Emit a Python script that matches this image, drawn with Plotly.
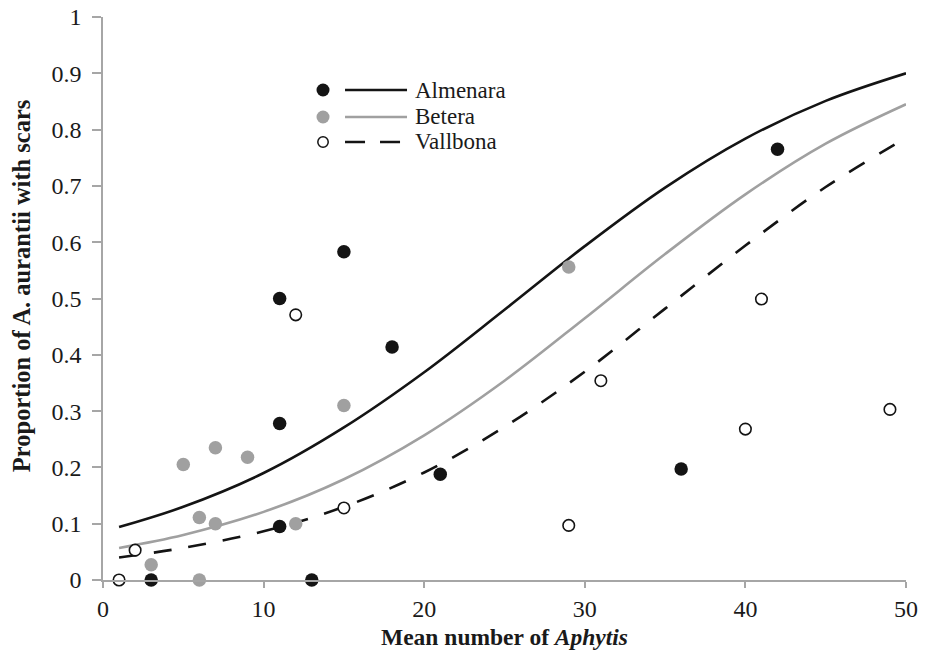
import plotly.graph_objects as go

# ---- data ----
alm_x = [3, 11, 11, 11, 13, 15, 18, 21, 36, 42]
alm_y = [0, 0.5, 0.278, 0.095, 0, 0.583, 0.414, 0.188, 0.197, 0.765]

bet_x = [3, 5, 6, 6, 7, 7, 9, 12, 15, 29]
bet_y = [0.027, 0.205, 0.111, 0, 0.235, 0.1, 0.218, 0.1, 0.31, 0.556]

val_x = [1, 2, 12, 15, 29, 31, 40, 41, 49]
val_y = [0, 0.053, 0.471, 0.128, 0.097, 0.354, 0.268, 0.499, 0.303]

curve_x = [1, 5, 10, 15, 20, 25, 30, 35, 40, 45, 50]
alm_fit = [0.094, 0.130, 0.190, 0.271, 0.369, 0.480, 0.593, 0.697, 0.784, 0.851, 0.900]
bet_fit = [0.057, 0.080, 0.121, 0.179, 0.257, 0.354, 0.465, 0.579, 0.685, 0.775, 0.845]
val_fit = [0.040, 0.057, 0.0865, 0.130, 0.191, 0.272, 0.370, 0.482, 0.594, 0.698, 0.785]

x_ticks = [0, 10, 20, 30, 40, 50]
y_ticks = [0, 0.1, 0.2, 0.3, 0.4, 0.5, 0.6, 0.7, 0.8, 0.9, 1]
y_tick_text = ["0", "0.1", "0.2", "0.3", "0.4", "0.5", "0.6", "0.7", "0.8", "0.9", "1"]

series_names = ["Almenara", "Betera", "Vallbona"]

BLACK = "#141414"
GREY = "#a0a0a0"
AXIS = "#a6a6a6"
TXT = "#1a1a1a"
FONT = "Liberation Serif"
DASH = "18px,17px"

fig = go.Figure()

# fitted curves
fig.add_trace(go.Scatter(x=curve_x, y=alm_fit, mode="lines", line=dict(color=BLACK, width=2.6, shape="spline"),
                         showlegend=False, hoverinfo="skip"))
fig.add_trace(go.Scatter(x=curve_x, y=bet_fit, mode="lines", line=dict(color=GREY, width=2.6, shape="spline"),
                         showlegend=False, hoverinfo="skip"))
fig.add_trace(go.Scatter(x=curve_x, y=val_fit, mode="lines",
                         line=dict(color=BLACK, width=2.6, shape="spline", dash=DASH),
                         showlegend=False, hoverinfo="skip"))

# observations
fig.add_trace(go.Scatter(x=alm_x, y=alm_y, mode="markers", cliponaxis=False, showlegend=False,
                         marker=dict(size=13.5, color=BLACK, line=dict(width=0))))
fig.add_trace(go.Scatter(x=bet_x, y=bet_y, mode="markers", cliponaxis=False, showlegend=False,
                         marker=dict(size=13.5, color=GREY, line=dict(width=0))))
fig.add_trace(go.Scatter(x=val_x, y=val_y, mode="markers", cliponaxis=False, showlegend=False,
                         marker=dict(size=11.5, color="white", line=dict(width=1.6, color=BLACK))))

# manual legend (paper coordinates)
leg_rows = [0.8703, 0.8224, 0.778]
mk_x = 0.274
ln_x0 = 0.3014
ln_x1 = [0.3786, 0.3786, 0.3699]
txt_x = 0.386
styles = [
    dict(fill=BLACK, outline=BLACK, lc=BLACK, dash="solid", r=6.5),
    dict(fill=GREY, outline=GREY, lc=GREY, dash="solid", r=6.5),
    dict(fill="white", outline=BLACK, lc=BLACK, dash="20px,15px", r=5.2),
]
shapes = []
annotations = []
for name, yv, st, x1 in zip(series_names, leg_rows, styles, ln_x1):
    shapes.append(dict(type="circle", xref="paper", yref="paper", xsizemode="pixel", ysizemode="pixel",
                       xanchor=mk_x, yanchor=yv, x0=-st["r"], x1=st["r"], y0=-st["r"], y1=st["r"],
                       fillcolor=st["fill"], line=dict(color=st["outline"], width=1.5 if name == "Vallbona" else 0)))
    shapes.append(dict(type="line", xref="paper", yref="paper", x0=ln_x0, x1=x1, y0=yv, y1=yv,
                       line=dict(color=st["lc"], width=2.6, dash=st["dash"])))
    annotations.append(dict(x=txt_x, y=yv, xref="paper", yref="paper", text=name, showarrow=False,
                            xanchor="left", yanchor="middle", font=dict(family=FONT, size=23, color=TXT)))

# y-axis title as annotation (placed slightly above plot centre as in the reference)
annotations.append(dict(x=-0.1021, y=0.522, xref="paper", yref="paper", textangle=-90,
                        text="<b>Proportion of A. aurantii with scars</b>", showarrow=False,
                        xanchor="center", yanchor="middle", font=dict(family=FONT, size=24.5, color=TXT)))

fig.update_layout(
    width=932, height=657,
    margin=dict(l=103, r=26, t=17, b=77, autoexpand=False),
    paper_bgcolor="white", plot_bgcolor="white",
    font=dict(family=FONT, size=24, color=TXT),
    shapes=shapes, annotations=annotations,
    showlegend=False,
)
fig.update_xaxes(range=[0, 50], tickvals=x_ticks, showgrid=False, zeroline=False, automargin=False,
                 showline=True, linecolor=AXIS, linewidth=1.5, ticks="outside", ticklen=6,
                 tickcolor=AXIS, tickwidth=1.5, tickfont=dict(family=FONT, size=24, color=TXT),
                 title=dict(text="<b>Mean number of <i>Aphytis</i></b>", font=dict(family=FONT, size=23.5, color=TXT),
                            standoff=8))
fig.update_yaxes(range=[0, 1], tickvals=y_ticks, ticktext=[t + "\u00a0" for t in y_tick_text],
                 showgrid=False, zeroline=False, automargin=False,
                 showline=True, linecolor=AXIS, linewidth=1.5, ticks="outside", ticklen=9,
                 tickcolor=AXIS, tickwidth=1.5, tickfont=dict(family=FONT, size=24, color=TXT))

fig.write_html("out.html", config={"displayModeBar": False},
               post_script="document.body.style.margin='0';document.body.style.overflow='hidden';")
